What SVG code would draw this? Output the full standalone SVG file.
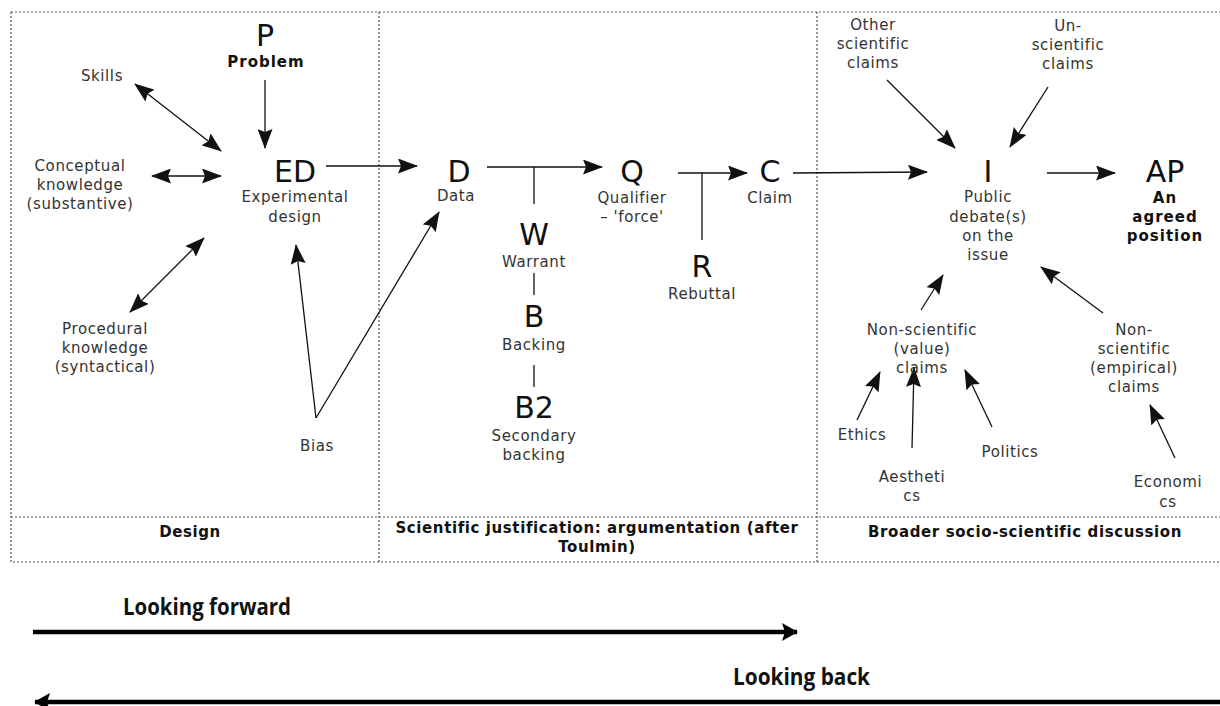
<svg xmlns="http://www.w3.org/2000/svg" width="1220" height="706" viewBox="0 0 1220 706">
<style>
.grid{fill:none;stroke:#555;stroke-width:1.2;stroke-dasharray:2,2}
.big{font-family:"DejaVu Sans",Verdana,sans-serif;font-size:30px;fill:#111;text-anchor:middle}
.lab{font-family:"DejaVu Sans",Verdana,sans-serif;font-size:15px;fill:#333;text-anchor:middle;letter-spacing:0.6px}
.bl{font-family:"DejaVu Sans",Verdana,sans-serif;font-size:15px;font-weight:bold;fill:#111;text-anchor:middle;letter-spacing:1px}
.sec{font-family:"DejaVu Sans",Verdana,sans-serif;font-size:15px;font-weight:bold;fill:#111;text-anchor:middle;letter-spacing:0.6px}
.dir{font-family:"Open Sans","DejaVu Sans",sans-serif;font-size:23px;font-weight:bold;fill:#111}
.ln{fill:none;stroke:#111;stroke-width:1.3}
.arr{fill:none;stroke:#111;stroke-width:1.3;marker-end:url(#ah)}
.dbl{fill:none;stroke:#111;stroke-width:1.3;marker-end:url(#ah);marker-start:url(#ah)}
.thick{fill:none;stroke:#000;stroke-width:4.5;marker-end:url(#th)}
</style>
<defs>
<marker id="ah" markerUnits="userSpaceOnUse" markerWidth="20" markerHeight="15" viewBox="0 0 20 15" refX="19" refY="7.5" orient="auto-start-reverse">
<path d="M0,0 L20,7.5 L0,15 L3,7.5 z" fill="#111"/>
</marker>
<marker id="th" markerUnits="userSpaceOnUse" markerWidth="16" markerHeight="18" viewBox="0 0 16 18" refX="15" refY="9" orient="auto">
<path d="M0,0 L16,9 L0,18 L3,9 z" fill="#000"/>
</marker>
</defs>
<rect width="1220" height="706" fill="#fff"/>

<g id="grid">
<rect class="grid" x="11" y="12" width="1215" height="550"/>
<line class="grid" x1="379" y1="12" x2="379" y2="562"/>
<line class="grid" x1="817" y1="12" x2="817" y2="562"/>
<line class="grid" x1="11" y1="517" x2="1220" y2="517"/>
</g>

<g id="connectors">
<line class="arr" x1="265" y1="80" x2="265" y2="148"/>
<line class="dbl" x1="135" y1="84" x2="221" y2="151"/>
<line class="dbl" x1="152" y1="176" x2="221" y2="176"/>
<line class="dbl" x1="130" y1="312" x2="204" y2="238"/>
<line class="arr" x1="316" y1="418" x2="296" y2="245"/>
<line class="arr" x1="316" y1="418" x2="439" y2="212"/>
<line class="arr" x1="326" y1="166" x2="417" y2="166"/>
<line class="arr" x1="487" y1="167" x2="602" y2="167"/>
<line class="ln" x1="534" y1="167" x2="534" y2="204"/>
<line class="ln" x1="534" y1="273" x2="534" y2="295"/>
<line class="ln" x1="534" y1="365" x2="534" y2="387"/>
<line class="arr" x1="678" y1="173" x2="747" y2="173"/>
<line class="ln" x1="702" y1="173" x2="702" y2="240"/>
<line class="arr" x1="793" y1="173" x2="927" y2="172"/>
<line class="arr" x1="1047" y1="173" x2="1115" y2="173"/>
<line class="arr" x1="887" y1="80" x2="955" y2="148"/>
<line class="arr" x1="1048" y1="87" x2="1010" y2="147"/>
<line class="arr" x1="921" y1="310" x2="943" y2="275"/>
<line class="arr" x1="1103" y1="313" x2="1041" y2="267"/>
<line class="arr" x1="857" y1="420" x2="880" y2="372"/>
<line class="arr" x1="912" y1="448" x2="914" y2="368"/>
<line class="arr" x1="992" y1="427" x2="965" y2="370"/>
<line class="arr" x1="1175" y1="458" x2="1150" y2="405"/>
<line class="thick" x1="33" y1="632" x2="797" y2="632"/>
<line class="thick" x1="1220" y1="702" x2="35" y2="702"/>
</g>

<g id="P"><text class="big" x="265" y="46">P</text><text class="bl" x="266" y="67">Problem</text></g>
<g id="Skills"><text class="lab" x="102" y="81">Skills</text></g>
<g id="Conceptual"><text class="lab" x="80" y="171">Conceptual</text><text class="lab" x="80" y="190">knowledge</text><text class="lab" x="80" y="209">(substantive)</text></g>
<g id="ED"><text class="big" x="295" y="182">ED</text><text class="lab" x="295" y="202">Experimental</text><text class="lab" x="295" y="222">design</text></g>
<g id="Procedural"><text class="lab" x="105" y="334">Procedural</text><text class="lab" x="105" y="353">knowledge</text><text class="lab" x="105" y="372">(syntactical)</text></g>
<g id="Bias"><text class="lab" x="317" y="451">Bias</text></g>
<g id="D"><text class="big" x="459" y="182">D</text><text class="lab" x="456" y="201">Data</text></g>
<g id="W"><text class="big" x="534" y="245">W</text><text class="lab" x="534" y="267">Warrant</text></g>
<g id="B"><text class="big" x="534" y="327">B</text><text class="lab" x="534" y="350">Backing</text></g>
<g id="B2"><text class="big" x="534" y="418">B2</text><text class="lab" x="534" y="441">Secondary</text><text class="lab" x="534" y="460">backing</text></g>
<g id="Q"><text class="big" x="632" y="182">Q</text><text class="lab" x="632" y="203">Qualifier</text><text class="lab" x="632" y="222">– 'force'</text></g>
<g id="R"><text class="big" x="702" y="277">R</text><text class="lab" x="702" y="299">Rebuttal</text></g>
<g id="C"><text class="big" x="770" y="182">C</text><text class="lab" x="770" y="203">Claim</text></g>
<g id="I"><text class="big" x="988" y="182">I</text><text class="lab" x="988" y="202">Public</text><text class="lab" x="988" y="222">debate(s)</text><text class="lab" x="988" y="241">on the</text><text class="lab" x="988" y="260">issue</text></g>
<g id="AP"><text class="big" x="1165" y="182">AP</text><text class="bl" x="1165" y="203">An</text><text class="bl" x="1165" y="222">agreed</text><text class="bl" x="1165" y="241">position</text></g>
<g id="Other"><text class="lab" x="873" y="30">Other</text><text class="lab" x="873" y="49">scientific</text><text class="lab" x="873" y="68">claims</text></g>
<g id="Un"><text class="lab" x="1068" y="31">Un-</text><text class="lab" x="1068" y="50">scientific</text><text class="lab" x="1068" y="69">claims</text></g>
<g id="NonValue"><text class="lab" x="922" y="335">Non-scientific</text><text class="lab" x="922" y="354">(value)</text><text class="lab" x="922" y="373">claims</text></g>
<g id="NonEmp"><text class="lab" x="1134" y="335">Non-</text><text class="lab" x="1134" y="354">scientific</text><text class="lab" x="1134" y="373">(empirical)</text><text class="lab" x="1134" y="392">claims</text></g>
<g id="Ethics"><text class="lab" x="862" y="440">Ethics</text></g>
<g id="Aesthetics"><text class="lab" x="912" y="482">Aestheti</text><text class="lab" x="912" y="501">cs</text></g>
<g id="Politics"><text class="lab" x="1010" y="457">Politics</text></g>
<g id="Economics"><text class="lab" x="1168" y="487">Economi</text><text class="lab" x="1168" y="507">cs</text></g>

<g id="sections">
<text class="sec" x="190" y="537">Design</text>
<text class="sec" x="597" y="533">Scientific justification: argumentation (after</text>
<text class="sec" x="597" y="552">Toulmin)</text>
<text class="sec" x="1025" y="537">Broader socio-scientific discussion</text>
</g>

<g id="directions">
<text class="dir" x="123" y="615" textLength="168" lengthAdjust="spacingAndGlyphs">Looking forward</text>
<text class="dir" x="733" y="685" textLength="137" lengthAdjust="spacingAndGlyphs">Looking back</text>
</g>
</svg>
